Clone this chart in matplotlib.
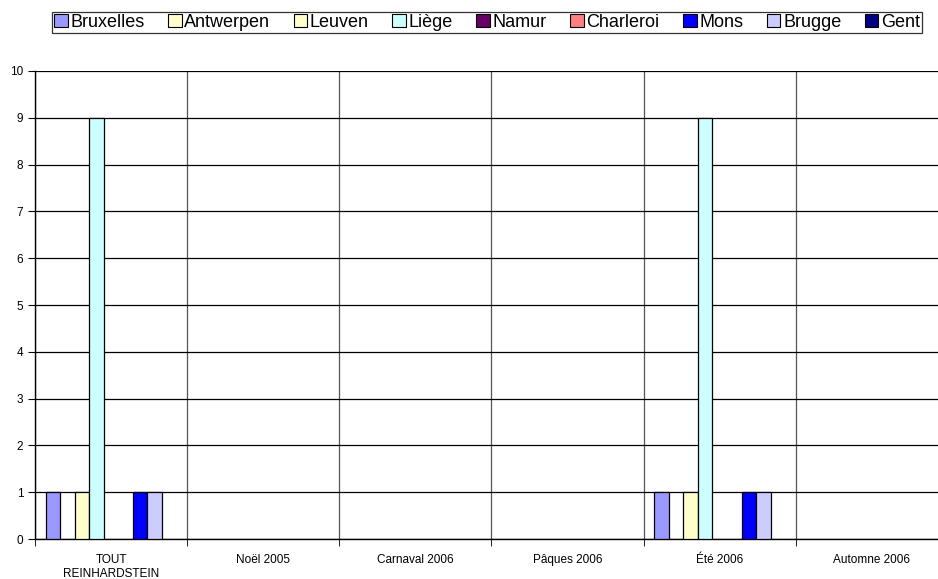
import matplotlib.pyplot as plt
import numpy as np

plt.rcParams['font.family'] = ['Liberation Sans', 'DejaVu Sans']

# categories and series
categories = ['TOUT\nREINHARDSTEIN', 'Noël 2005', 'Carnaval 2006',
              'Pâques 2006', 'Été 2006', 'Automne 2006']
series = ['Bruxelles', 'Antwerpen', 'Leuven', 'Liège', 'Namur',
          'Charleroi', 'Mons', 'Brugge', 'Gent']
colors = ['#9999FF', '#FFFFCC', '#FFFFCC', '#CCFFFF', '#660066',
          '#FF8080', '#0000FF', '#CCCCFF', '#000080']

bruxelles = [1, 0, 0, 0, 1, 0]
antwerpen = [0, 0, 0, 0, 0, 0]
leuven = [1, 0, 0, 0, 1, 0]
liege = [9, 0, 0, 0, 9, 0]
namur = [0, 0, 0, 0, 0, 0]
charleroi = [0, 0, 0, 0, 0, 0]
mons = [1, 0, 0, 0, 1, 0]
brugge = [1, 0, 0, 0, 1, 0]
gent = [0, 0, 0, 0, 0, 0]
values = [bruxelles, antwerpen, leuven, liege, namur, charleroi, mons, brugge, gent]

fig = plt.figure(figsize=(9.38, 5.79), dpi=100)
ax = fig.add_axes([35 / 938, 1 - 539 / 579, 913 / 938, 468 / 579])

x = np.arange(len(categories))
w = 0.0954
handles = []
for i, (name, vals, c) in enumerate(zip(series, values, colors)):
    offs = (i - 4) * w
    v = np.array(vals, dtype=float)
    # zero bars are not drawn in the original
    ax.bar(x + offs, np.where(v > 0, v, np.nan), width=w, color=c,
           edgecolor='black', linewidth=0.9, zorder=3)
    handles.append(plt.Rectangle((0, 0), 1, 1, facecolor=c, edgecolor='black', linewidth=0.8))

ax.set_xlim(-0.5, len(categories) - 0.5)
ax.set_ylim(0, 10)
ax.set_yticks(range(0, 11))
ax.yaxis.grid(True, color='black', linewidth=0.9, zorder=0)
ax.set_xticks(x)
ax.set_xticklabels(categories, fontsize=8.5, linespacing=1.15)
ax.set_xticks(np.arange(-0.5, len(categories), 1), minor=True)
ax.xaxis.grid(True, which='minor', color='#555555', linewidth=0.9, zorder=0)
ax.tick_params(axis='x', which='major', length=0, pad=11)
ax.tick_params(axis='x', which='minor', length=5, direction='out')
ax.tick_params(axis='y', length=5, direction='out', labelsize=8.5)
for s in ['top', 'right']:
    ax.spines[s].set_visible(False)
ax.spines['left'].set_linewidth(1.0)
ax.spines['bottom'].set_linewidth(1.0)

leg = fig.legend(handles, series, loc='upper center', ncol=9,
                 bbox_to_anchor=(487 / 938, 1 - 12 / 579), fontsize=13,
                 frameon=True, fancybox=False, handlelength=0.75,
                 handleheight=0.75, handletextpad=0.15, columnspacing=1.3,
                 borderpad=0.12, borderaxespad=0)
leg.get_frame().set_edgecolor('black')
leg.get_frame().set_linewidth(0.9)

fig.savefig('out.png', dpi=100)
